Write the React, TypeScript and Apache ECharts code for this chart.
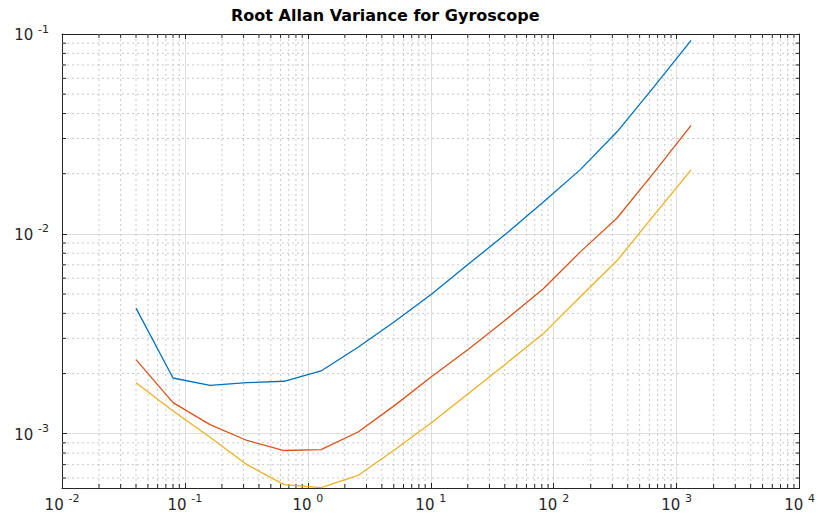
import React, { useEffect, useRef } from "react";
import * as echarts from "echarts";

// Averaging time (s)
const tau = [0.04, 0.08, 0.16, 0.32, 0.64, 1.28, 2.56, 5.12, 10.24, 20.48, 40.96, 81.92, 163.84, 327.68, 655.36, 1310.72];
// Root Allan variance for the three gyroscope axes
const gyroX = [4.25e-3, 1.9e-3, 1.745e-3, 1.8e-3, 1.83e-3, 2.06e-3, 2.71e-3, 3.65e-3, 5.02e-3, 7.1e-3, 1.0e-2, 1.44e-2, 2.09e-2, 3.24e-2, 5.45e-2, 9.3e-2];
const gyroY = [2.35e-3, 1.43e-3, 1.11e-3, 9.25e-4, 8.24e-4, 8.32e-4, 1.02e-3, 1.39e-3, 1.94e-3, 2.66e-3, 3.73e-3, 5.3e-3, 8.1e-3, 1.2e-2, 2.03e-2, 3.49e-2];
const gyroZ = [1.8e-3, 1.3e-3, 9.6e-4, 7.0e-4, 5.56e-4, 5.37e-4, 6.18e-4, 8.34e-4, 1.14e-3, 1.6e-3, 2.24e-3, 3.16e-3, 4.83e-3, 7.35e-3, 1.24e-2, 2.09e-2];

// Axis ranges
const X_MIN = 1e-2;
const X_MAX = 1e4;
const Y_MIN = 5.35e-4;
const Y_MAX = 1e-1;

// Minor grid positions
const xDecades = [1e-2, 1e-1, 1, 1e1, 1e2, 1e3];
const yDecades = [1e-4, 1e-3, 1e-2];
const minorSteps = [2, 3, 4, 5, 6, 7, 8, 9];

const TITLE = "Root Allan Variance for Gyroscope";
const COLORS = ["#0072BD", "#D95319", "#EDB120"];

const AXIS_COLOR = "#262626";
const FONT = "DejaVu Sans";

function powLabel(v: number): string {
  const lg = Math.log10(v);
  const e = Math.round(lg);
  if (Math.abs(lg - e) > 1e-6) return "";
  return `{b|10 }{s|${e}}`;
}

const richLabel = {
  b: { fontSize: 15, fontFamily: FONT, color: AXIS_COLOR, verticalAlign: "bottom", lineHeight: 17 },
  s: { fontSize: 11, fontFamily: FONT, color: AXIS_COLOR, verticalAlign: "bottom", lineHeight: 13, padding: [0, 0, 8, 0] },
};

export default function App() {
  const ref = useRef<HTMLDivElement>(null);

  useEffect(() => {
    if (!ref.current) return;
    const chart = echarts.init(ref.current, null, { renderer: "svg" });

    const xMinor: number[][] = [];
    xDecades.forEach((d) => minorSteps.forEach((k) => xMinor.push([k * d, Y_MIN])));
    const yMinor: number[][] = [];
    yDecades.forEach((d) =>
      minorSteps.forEach((k) => {
        const v = k * d;
        if (v > Y_MIN && v < Y_MAX) yMinor.push([X_MIN, v]);
      })
    );

    const gridStyle = { stroke: "#c8c8c8", lineWidth: 1, lineDash: [2, 3] };
    const tickStyle = { stroke: AXIS_COLOR, lineWidth: 1 };
    const TICK = 4;

    const lineSeries = [gyroX, gyroY, gyroZ].map((vals, i) => ({
      type: "line",
      name: ["X", "Y", "Z"][i],
      data: tau.map((t, j) => [t, vals[j]]),
      showSymbol: false,
      symbol: "none",
      lineStyle: { color: COLORS[i], width: 1.3 },
      itemStyle: { color: COLORS[i] },
      z: 5,
      silent: true,
    }));

    const option: any = {
      animation: false,
      backgroundColor: "#ffffff",
      title: {
        text: TITLE,
        left: 226,
        top: 2,
        textStyle: { fontFamily: FONT, fontSize: 16, fontWeight: "bold", color: "#000000" },
      },
      grid: { left: 62, right: 11, top: 34, bottom: 27, containLabel: false },
      xAxis: [
        {
          type: "log",
          logBase: 10,
          min: X_MIN,
          max: X_MAX,
          position: "bottom",
          axisLine: { show: true, lineStyle: { color: AXIS_COLOR, width: 1 } },
          axisTick: { show: true, inside: true, length: 5, lineStyle: { color: AXIS_COLOR } },
          axisLabel: { formatter: powLabel, rich: richLabel, margin: 7 },
          splitLine: { show: true, lineStyle: { color: "#dedede", width: 1 } },
        },
        {
          type: "log",
          logBase: 10,
          min: X_MIN,
          max: X_MAX,
          position: "top",
          axisLine: { show: true, lineStyle: { color: AXIS_COLOR, width: 1 } },
          axisTick: { show: true, inside: true, length: 5, lineStyle: { color: AXIS_COLOR } },
          axisLabel: { show: false },
          splitLine: { show: false },
        },
      ],
      yAxis: [
        {
          type: "log",
          logBase: 10,
          min: Y_MIN,
          max: Y_MAX,
          position: "left",
          axisLine: { show: true, lineStyle: { color: AXIS_COLOR, width: 1 } },
          axisTick: { show: true, inside: true, length: 5, lineStyle: { color: AXIS_COLOR } },
          axisLabel: { formatter: powLabel, rich: richLabel, margin: 13 },
          splitLine: { show: true, lineStyle: { color: "#dedede", width: 1 } },
        },
        {
          type: "log",
          logBase: 10,
          min: Y_MIN,
          max: Y_MAX,
          position: "right",
          axisLine: { show: true, lineStyle: { color: AXIS_COLOR, width: 1 } },
          axisTick: { show: true, inside: true, length: 5, lineStyle: { color: AXIS_COLOR } },
          axisLabel: { show: false },
          splitLine: { show: false },
        },
      ],
      series: [
        {
          type: "custom",
          xAxisIndex: 0,
          yAxisIndex: 0,
          silent: true,
          z: 1,
          clip: false,
          encode: { x: 0, y: 1 },
          data: xMinor,
          renderItem: (params: any, api: any) => {
            const v = api.value(0);
            const top = api.coord([v, Y_MAX]);
            const bot = api.coord([v, Y_MIN]);
            return {
              type: "group",
              children: [
                { type: "line", shape: { x1: top[0], y1: top[1], x2: bot[0], y2: bot[1] }, style: gridStyle },
                { type: "line", shape: { x1: bot[0], y1: bot[1], x2: bot[0], y2: bot[1] - TICK }, style: tickStyle },
                { type: "line", shape: { x1: top[0], y1: top[1], x2: top[0], y2: top[1] + TICK }, style: tickStyle },
              ],
            };
          },
        },
        {
          type: "custom",
          xAxisIndex: 0,
          yAxisIndex: 0,
          silent: true,
          z: 1,
          clip: false,
          encode: { x: 0, y: 1 },
          data: yMinor,
          renderItem: (params: any, api: any) => {
            const v = api.value(1);
            const left = api.coord([X_MIN, v]);
            const right = api.coord([X_MAX, v]);
            return {
              type: "group",
              children: [
                { type: "line", shape: { x1: left[0], y1: left[1], x2: right[0], y2: right[1] }, style: gridStyle },
                { type: "line", shape: { x1: left[0], y1: left[1], x2: left[0] + TICK, y2: left[1] }, style: tickStyle },
                { type: "line", shape: { x1: right[0], y1: right[1], x2: right[0] - TICK, y2: right[1] }, style: tickStyle },
              ],
            };
          },
        },
        ...lineSeries,
      ],
    };

    chart.setOption(option);
    return () => chart.dispose();
  }, []);

  return (
    <div
      ref={ref}
      style={{ position: "fixed", left: 0, top: 0, width: 818, height: 515, background: "#fff" }}
    />
  );
}
